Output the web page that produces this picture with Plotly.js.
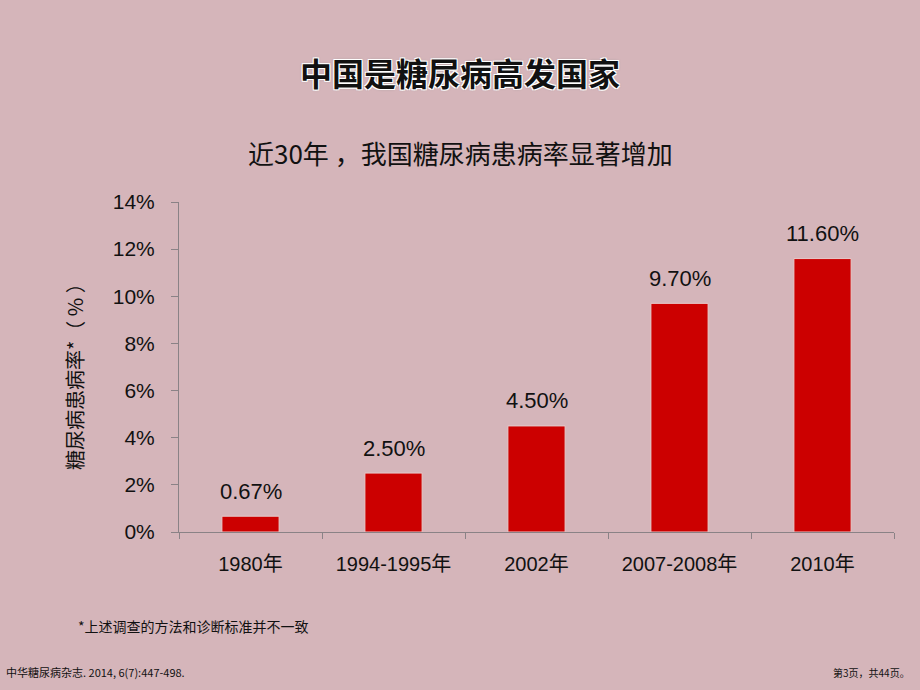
<!DOCTYPE html>
<html>
<head>
<meta charset="utf-8">
<script src="https://cdn.plot.ly/plotly-3.0.1.min.js"></script>
<style>
html,body{margin:0;padding:0;background:#d5b5ba;}
#chart{width:920px;height:690px;}
</style>
</head>
<body>
<div id="chart"></div>
<script>
var categories = ["1980年", "1994-1995年", "2002年", "2007-2008年", "2010年"];
var prevalence = [0.0067, 0.025, 0.045, 0.097, 0.116];
var valueLabels = ["0.67%", "2.50%", "4.50%", "9.70%", "11.60%"];
var yTickVals = [0, 0.02, 0.04, 0.06, 0.08, 0.10, 0.12, 0.14];
var yTickText = ["0%", "2%", "4%", "6%", "8%", "10%", "12%", "14%"];

var latin = "'Liberation Sans', Arial, 'Noto Sans CJK SC', sans-serif";
var cjk = "'Noto Sans CJK SC', 'Liberation Sans', sans-serif";

var trace = {
  type: "bar",
  x: categories,
  y: prevalence,
  marker: {color: "#cc0000", line: {color: "#e6cccc", width: 1}},
  hoverinfo: "none"
};

// page centre in plot-paper coordinates (plot area spans x 179..894)
var pageCenter = (460 - 179) / 715;

var annotations = categories.map(function (c, i) {
  return {
    x: c, y: prevalence[i], xref: "x", yref: "y",
    text: valueLabels[i], showarrow: false,
    xanchor: "center", yanchor: "middle", yshift: 25,
    font: {family: latin, size: 22, color: "#111"}
  };
});

annotations.push(
  {text: "<b>中国是糖尿病高发国家</b>", xref: "paper", yref: "paper", x: pageCenter, y: 1, xanchor: "center", yanchor: "middle",
   yshift: 130, showarrow: false,
   font: {family: cjk, size: 32, color: "#111", shadow: "1px 1px 0 #fff, -1px -1px 0 #fff, 1px -1px 0 #fff, -1px 1px 0 #fff, 0 0 3px #999"}},
  {text: "近30年 ，我国糖尿病患病率显著增加", xref: "paper", yref: "paper", x: pageCenter, y: 1, xanchor: "center", yanchor: "middle",
   yshift: 50, showarrow: false, font: {family: cjk, size: 26, color: "#111"}},
  {text: "糖尿病患病率*（ % ）", xref: "paper", yref: "paper", x: 0, y: (532 - 372) / 330, xanchor: "center", yanchor: "middle",
   xshift: -105, textangle: -90, showarrow: false, font: {family: cjk, size: 20, color: "#111"}},
  {text: "*上述调查的方法和诊断标准并不一致", xref: "paper", yref: "paper", x: 0, y: 0, xanchor: "left", yanchor: "middle",
   xshift: -103, yshift: -94, showarrow: false, font: {family: cjk, size: 14, color: "#111"}},
  {text: "中华糖尿病杂志. 2014, 6(7):447-498.", xref: "paper", yref: "paper", x: 0, y: 0, xanchor: "left", yanchor: "middle",
   xshift: -175, yshift: -140, showarrow: false, font: {family: "'Liberation Sans Narrow', 'Noto Sans CJK SC', sans-serif", size: 11, color: "#111"}},
  {text: "第3页，共44页。", xref: "paper", yref: "paper", x: 1, y: 0, xanchor: "right", yanchor: "middle",
   xshift: 18, yshift: -140, showarrow: false, font: {family: cjk, size: 10, color: "#111"}}
);

var layout = {
  width: 920, height: 690,
  paper_bgcolor: "#d5b5ba",
  plot_bgcolor: "rgba(0,0,0,0)",
  showlegend: false,
  bargap: 0.6,
  margin: {l: 179, r: 26, t: 202, b: 158},
  xaxis: {
    type: "category",
    showline: true, linecolor: "#8a8286", linewidth: 1,
    ticks: "outside", tickson: "boundaries", ticklen: 6, tickcolor: "#8a8286",
    ticklabelstandoff: 14,
    tickfont: {family: latin, size: 20, color: "#111"},
    showgrid: false, zeroline: false, fixedrange: true
  },
  yaxis: {
    range: [0, 0.14],
    tickvals: yTickVals, ticktext: yTickText,
    showline: true, linecolor: "#8a8286", linewidth: 1,
    ticks: "outside", ticklen: 7, tickcolor: "#8a8286",
    ticklabelstandoff: 12,
    tickfont: {family: latin, size: 21, color: "#111"},
    showgrid: false, zeroline: false, fixedrange: true
  },
  annotations: annotations
};

Plotly.newPlot("chart", [trace], layout, {displayModeBar: false, staticPlot: true});
</script>
</body>
</html>
